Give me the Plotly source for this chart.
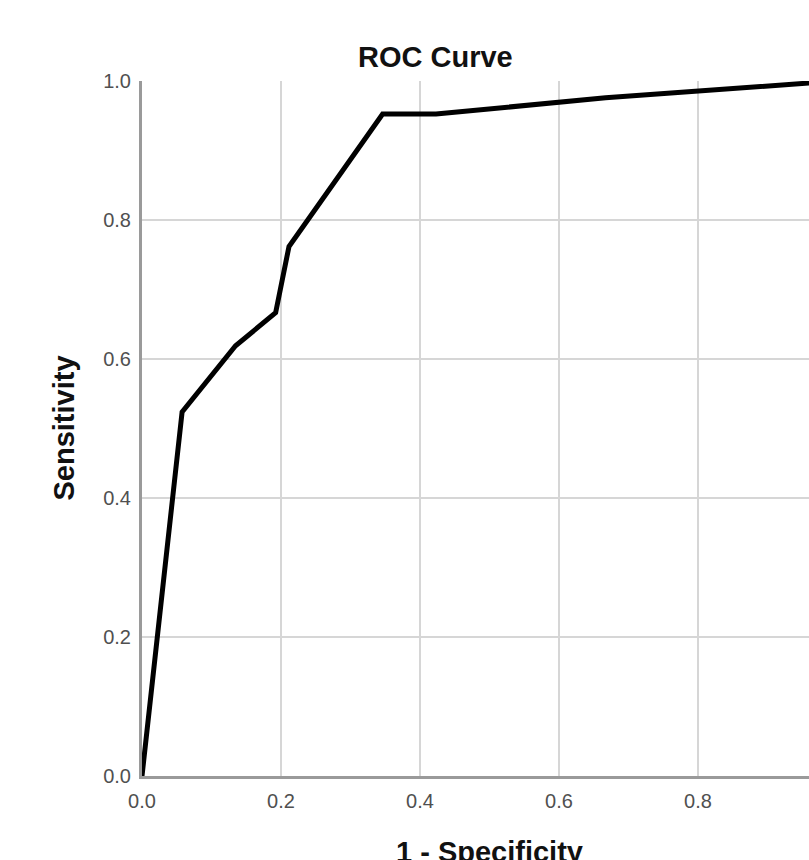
import plotly.graph_objects as go

# ROC curve points (1 - Specificity, Sensitivity)
fpr = [0.0, 0.0577, 0.1346, 0.1923, 0.2115, 0.3462, 0.4231, 0.667, 1.0]
tpr = [0.0, 0.5238, 0.6190, 0.6667, 0.7619, 0.9524, 0.9524, 0.9760, 1.0]
tick_vals = [0.0, 0.2, 0.4, 0.6, 0.8, 1.0]
tick_text = ["0.0", "0.2", "0.4", "0.6", "0.8", "1.0"]

W, H = 809, 860
L, T, B = 142, 81, 84
plot_px = H - T - B  # square plot, data 0..1 spans this many pixels
xmax = (W - L) / plot_px

fig = go.Figure()
fig.add_trace(go.Scatter(x=fpr, y=tpr, mode="lines",
                         line=dict(color="black", width=5),
                         hoverinfo="skip", showlegend=False))

axis_common = dict(
    tickvals=tick_vals, ticktext=tick_text,
    showgrid=True, gridcolor="#d6d6d6", gridwidth=2,
    zeroline=False, ticks="",
    tickfont=dict(family="Liberation Sans, Arial", size=20, color="#505050"),
)

fig.update_xaxes(range=[0, xmax], showline=True, linecolor="#9a9a9a", linewidth=3,
                 ticklabelstandoff=5, **axis_common)
fig.update_yaxes(range=[0, 1], showline=True, linecolor="#9a9a9a", linewidth=3,
                 ticklabelstandoff=4, **axis_common)

title_font = dict(family="Liberation Sans, Arial", size=29, color="#111111")
fig.update_layout(
    width=W, height=H,
    margin=dict(l=L, r=0, t=T, b=B, pad=0),
    paper_bgcolor="white", plot_bgcolor="white",
    annotations=[
        dict(text="<b>ROC Curve</b>", xref="paper", yref="paper",
             x=(435 - L) / (W - L), y=1, yshift=24, showarrow=False,
             xanchor="center", yanchor="middle", font=title_font),
        dict(text="<b>Sensitivity</b>", xref="paper", yref="paper",
             x=0, xshift=-79, y=0.5, textangle=-90, showarrow=False,
             xanchor="center", yanchor="middle", font=title_font),
        dict(text="<b>1 - Specificity</b>", xref="x", yref="paper",
             x=0.5, y=0, yshift=-76, showarrow=False,
             xanchor="center", yanchor="middle", font=title_font),
    ],
)

fig.write_html(
    "out.html",
    config={"displayModeBar": False},
    post_script="document.body.style.margin='0';document.body.style.overflow='hidden';",
)
